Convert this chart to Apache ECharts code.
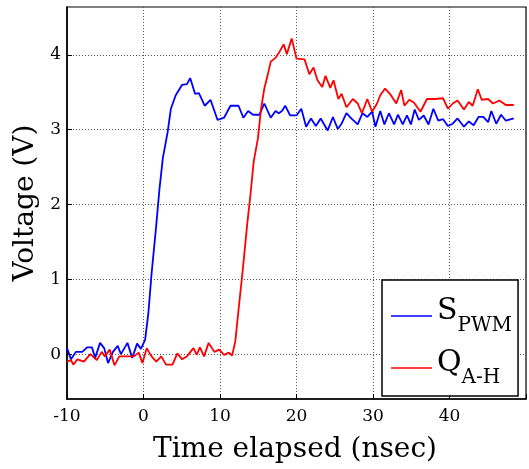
<!DOCTYPE html>
<html>
<head>
<meta charset="utf-8">
<script src="https://cdn.jsdelivr.net/npm/echarts@6/dist/echarts.min.js"></script>
<style>
  html, body { margin: 0; padding: 0; background: #fff; }
  #main { width: 529px; height: 469px; }
</style>
</head>
<body>
<div id="main"></div>
<script>
// S_PWM trace (time in nsec, voltage in V)
var sTime = [-10, -9.47, -8.84, -8.0, -7.37, -6.74, -6.32, -5.68, -5.14, -4.63, -4.0, -3.37, -2.95, -2.1, -1.47, -0.84, -0.34,
  0.21, 0.63, 1.05, 1.6, 2.1, 2.53, 3.16, 3.58, 4.21, 5.05, 5.68, 6.1, 6.74, 7.24, 8.0, 8.76, 9.68,
  10.53, 11.37, 12.42, 13.05, 13.68, 14.32, 15.16, 15.79, 16.63, 17.26, 17.68, 18.1, 18.53, 19.16,
  20.0, 20.63, 21.26, 21.89, 22.53, 23.16, 24.08, 24.76, 25.39, 25.89, 26.53, 27.16, 28.0, 28.63, 29.26, 29.89,
  30.32, 30.95, 31.49, 32.08, 32.76, 33.26, 33.89, 34.44, 34.95, 35.45, 36.0, 36.63, 37.26, 37.89, 38.53, 39.16, 39.79,
  40.42, 41.05, 41.89, 42.53, 43.16, 43.79, 44.42, 45.05, 45.47, 46.11, 46.74, 47.37, 48.4];
var sVolt = [0.08, -0.07, 0.03, 0.03, 0.09, 0.09, -0.05, 0.15, 0.08, -0.12, 0.03, 0.11, 0, 0.15, -0.05, 0.14, 0.07,
  0.19, 0.54, 1.07, 1.65, 2.22, 2.62, 2.97, 3.28, 3.46, 3.6, 3.61, 3.69, 3.48, 3.49, 3.32, 3.4, 3.13,
  3.16, 3.32, 3.32, 3.16, 3.25, 3.2, 3.2, 3.35, 3.16, 3.25, 3.22, 3.25, 3.32, 3.19,
  3.19, 3.28, 3.04, 3.15, 3.05, 3.15, 2.99, 3.17, 3.01, 3.08, 3.22, 3.15, 3.07, 3.22, 3.17, 3.24,
  3.04, 3.25, 3.07, 3.22, 3.07, 3.2, 3.07, 3.19, 3.07, 3.27, 3.13, 3.19, 3.07, 3.28, 3.12, 3.14, 3.05,
  3.08, 3.15, 3.04, 3.11, 3.06, 3.17, 3.17, 3.1, 3.25, 3.08, 3.2, 3.12, 3.15];

// Q_A-H trace
var qTime = [-10, -9.47, -9.18, -8.63, -7.79, -6.95, -6.11, -5.47, -5.05, -4.42, -3.79, -3.16, -2.11, -1.26, -0.63, -0.13,
  0.42, 1.05, 1.68, 2.32, 2.95, 3.79, 4.42, 5.05, 5.68, 6.53, 6.95, 7.37, 7.92, 8.51, 9.26, 9.89,
  10.53, 11.16, 11.58, 12.0, 12.42, 12.97, 13.56, 13.98, 14.4, 14.95, 15.37, 15.79, 16.21, 16.63, 17.26, 17.77,
  18.32, 18.74, 19.37, 20.0, 21.05, 21.68, 22.23, 22.74, 23.37, 23.79, 24.42, 24.84, 25.47, 25.89, 26.53, 27.37,
  28.0, 28.55, 29.26, 29.89, 30.53, 30.95, 31.58, 32.21, 33.05, 33.68, 34.11, 34.74, 35.37, 36.21, 37.05, 38.11,
  39.16, 39.79, 40.42, 41.05, 41.89, 42.53, 43.03, 43.7, 44.21, 45.05, 45.68, 46.53, 47.37, 48.4];
var qVolt = [-0.1, -0.08, -0.14, -0.07, -0.1, 0, -0.08, 0.03, -0.03, 0.06, -0.15, -0.03, -0.03, -0.03, 0.02, -0.12,
  0.08, -0.03, -0.1, -0.03, -0.14, -0.14, 0.01, -0.07, -0.03, 0.08, -0.01, 0.09, -0.03, 0.15, 0.03, 0.06,
  -0.01, 0.02, -0.02, 0.17, 0.59, 1.12, 1.74, 2.13, 2.57, 2.88, 3.28, 3.55, 3.72, 3.91, 3.96, 4.04,
  4.14, 4.01, 4.22, 3.95, 3.94, 3.74, 3.83, 3.66, 3.57, 3.72, 3.56, 3.66, 3.41, 3.48, 3.3, 3.41,
  3.35, 3.22, 3.41, 3.24, 3.35, 3.46, 3.55, 3.48, 3.35, 3.53, 3.32, 3.4, 3.36, 3.24, 3.41, 3.41,
  3.42, 3.28, 3.35, 3.39, 3.27, 3.37, 3.32, 3.54, 3.4, 3.41, 3.35, 3.39, 3.33, 3.33];

var xTicks = [-10, 0, 10, 20, 30, 40];
var yTicks = [0, 1, 2, 3, 4];

var FONT = 'DejaVu Serif';

function pairs(xs, ys) {
  return xs.map(function (x, i) { return [x, ys[i]]; });
}

var chart = echarts.init(document.getElementById('main'));

var dotted = { color: '#555', width: 1, type: [1, 2] };

var option = {
  backgroundColor: '#fff',
  animation: false,
  grid: { left: 67, top: 7, right: -13, bottom: 66, show: true, borderColor: '#000', borderWidth: 1.2, containLabel: false },
  legend: {
    left: 382, top: 280,
    orient: 'vertical',
    padding: [4, 6, 8, 9],
    icon: 'rect',
    itemWidth: 41, itemHeight: 1.5, itemGap: 0,
    backgroundColor: '#fff', borderColor: '#000', borderWidth: 1.5,
    formatter: function (name) {
      var parts = name.split(' ');
      return '{m|' + parts[0] + '}{s|' + parts[1] + '}';
    },
    textStyle: {
      fontFamily: FONT, color: '#000',
      rich: {
        m: { fontFamily: FONT, fontSize: 30, lineHeight: 40, verticalAlign: 'top', color: '#000' },
        s: { fontFamily: FONT, fontSize: 20, lineHeight: 22, padding: [32, 0, 0, 0], verticalAlign: 'bottom', color: '#000' }
      }
    },
    data: ['S PWM', 'Q A-H']
  },
  xAxis: {
    type: 'value', min: -10, max: 50, interval: 10,
    axisLine: { onZero: false, lineStyle: { color: '#000', width: 1.6 } },
    axisTick: { inside: true, length: 5, lineStyle: { color: '#000' } },
    axisLabel: { fontFamily: FONT, fontSize: 17, color: '#000', margin: 9,
      formatter: function (v) { return xTicks.indexOf(v) >= 0 ? String(v) : ''; } },
    splitLine: { show: true, lineStyle: dotted },
    name: 'Time elapsed (nsec)', nameLocation: 'middle', nameGap: 37,
    nameTextStyle: { fontFamily: FONT, fontSize: 28, color: '#000', padding: [0, 3, 0, 0] }
  },
  yAxis: {
    type: 'value', min: -0.6, max: 4.64,
    axisLine: { show: true, onZero: false, lineStyle: { color: '#000', width: 1.6 } },
    axisTick: { show: true, inside: true, length: 5, customValues: yTicks, lineStyle: { color: '#000' } },
    axisLabel: { fontFamily: FONT, fontSize: 17, color: '#000', margin: 6, customValues: yTicks },
    splitLine: { show: true, lineStyle: dotted },
    name: 'Voltage (V)', nameLocation: 'middle', nameGap: 24, nameRotate: 90,
    nameTextStyle: { fontFamily: FONT, fontSize: 28, color: '#000' }
  },
  series: [
    { name: 'S PWM', type: 'line', symbol: 'none', smooth: false, data: pairs(sTime, sVolt),
      lineStyle: { color: '#0000ff', width: 1.8 }, itemStyle: { color: '#0000ff' } },
    { name: 'Q A-H', type: 'line', symbol: 'none', smooth: false, data: pairs(qTime, qVolt),
      lineStyle: { color: '#ff0000', width: 1.8 }, itemStyle: { color: '#ff0000' } }
  ]
};

chart.setOption(option);
</script>
</body>
</html>
